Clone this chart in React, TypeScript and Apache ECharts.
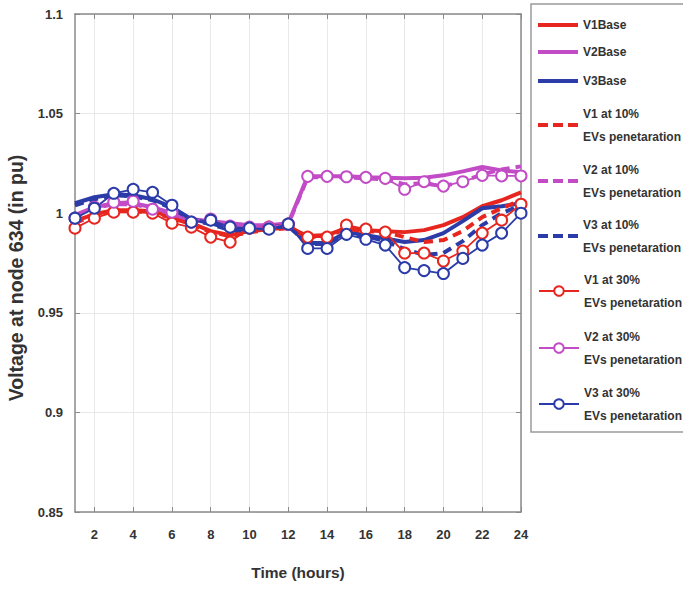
import { useEffect, useRef } from 'react';
import * as echarts from 'echarts';

const hours = ['1','2','3','4','5','6','7','8','9','10','11','12','13','14','15','16','17','18','19','20','21','22','23','24'];

const v1Base = [0.996, 0.9995, 1.0015, 1.0015, 1.001, 0.998, 0.995, 0.991, 0.989, 0.991, 0.992, 0.993, 0.9885, 0.989, 0.9925, 0.9915, 0.991, 0.9905, 0.9915, 0.994, 0.998, 1.0035, 1.0065, 1.0105];
const v2Base = [0.999, 1.003, 1.005, 1.005, 1.003, 1.0, 0.997, 0.996, 0.995, 0.994, 0.994, 0.995, 1.0185, 1.0185, 1.0185, 1.018, 1.0178, 1.0175, 1.0178, 1.019, 1.021, 1.0232, 1.0215, 1.0205];
const v3Base = [1.005, 1.008, 1.0095, 1.009, 1.007, 1.003, 0.997, 0.995, 0.992, 0.992, 0.993, 0.994, 0.985, 0.985, 0.9905, 0.989, 0.9873, 0.9855, 0.9865, 0.99, 0.996, 1.0025, 1.0035, 1.005];

const v1At10 = [0.995, 0.999, 1.001, 1.001, 1.0005, 0.9975, 0.9945, 0.9905, 0.9885, 0.9905, 0.9915, 0.9925, 0.988, 0.9885, 0.992, 0.991, 0.9905, 0.988, 0.9855, 0.9865, 0.991, 0.998, 1.0025, 1.0065];
const v2At10 = [0.9985, 1.0025, 1.0045, 1.0045, 1.0025, 0.9995, 0.9965, 0.9955, 0.9945, 0.9935, 0.9935, 0.9945, 1.018, 1.018, 1.018, 1.0175, 1.017, 1.0145, 1.015, 1.0135, 1.016, 1.0195, 1.022, 1.0235];
const v3At10 = [1.004, 1.007, 1.009, 1.0085, 1.0065, 1.0025, 0.9965, 0.9945, 0.9915, 0.9915, 0.9925, 0.9935, 0.9845, 0.9845, 0.99, 0.9885, 0.986, 0.982, 0.979, 0.98, 0.986, 0.994, 1.0, 1.004];

const v1At30 = [0.9925, 0.9975, 1.0005, 1.0005, 1.0, 0.995, 0.993, 0.988, 0.9855, 0.9925, 0.993, 0.9945, 0.988, 0.988, 0.994, 0.992, 0.9905, 0.98, 0.98, 0.976, 0.981, 0.99, 0.9965, 1.0045];
const v2At30 = [0.9975, 1.003, 1.0055, 1.006, 1.002, 1.0005, 0.9955, 0.997, 0.9935, 0.993, 0.993, 0.9945, 1.0185, 1.0185, 1.0183, 1.018, 1.0175, 1.012, 1.0158, 1.0136, 1.0158, 1.019, 1.0187, 1.0187];
const v3At30 = [0.9975, 1.0025, 1.01, 1.012, 1.0105, 1.004, 0.9955, 0.9965, 0.993, 0.9925, 0.992, 0.9945, 0.9823, 0.9823, 0.9894, 0.9869, 0.984, 0.9727, 0.9712, 0.9697, 0.9773, 0.984, 0.99, 1.0];

const RED = '#e6261f';
const MAG = '#c24cc6';
const BLUE = '#2b3ba8';
const FONT = "'Liberation Sans', Arial, sans-serif";
const FRAME = '#8a8a8a';

const SOLID_ICON = 'path://M0,0h40v4h-40z';
const DASH_ICON = 'path://M0,0h10v4h-10z M15,0h10v4h-10z M30,0h10v4h-10z';

type Def = { name: string; data: number[]; color: string; kind: 'base' | 'p10' | 'p30'; legendY: number; double: boolean };

const defs: Def[] = [
  { name: 'V1Base', data: v1Base, color: RED, kind: 'base', legendY: 25, double: false },
  { name: 'V2Base', data: v2Base, color: MAG, kind: 'base', legendY: 52, double: false },
  { name: 'V3Base', data: v3Base, color: BLUE, kind: 'base', legendY: 81, double: false },
  { name: 'V1 at 10% EVs penetaration', data: v1At10, color: RED, kind: 'p10', legendY: 125, double: true },
  { name: 'V2 at 10% EVs penetaration', data: v2At10, color: MAG, kind: 'p10', legendY: 181, double: true },
  { name: 'V3 at 10% EVs penetaration', data: v3At10, color: BLUE, kind: 'p10', legendY: 236, double: true },
  { name: 'V1 at 30% EVs penetaration', data: v1At30, color: RED, kind: 'p30', legendY: 291, double: true },
  { name: 'V2 at 30% EVs penetaration', data: v2At30, color: MAG, kind: 'p30', legendY: 348, double: true },
  { name: 'V3 at 30% EVs penetaration', data: v3At30, color: BLUE, kind: 'p30', legendY: 404, double: true },
];

const evenIdx = (i: number) => i % 2 === 1;

export default function App() {
  const ref = useRef<HTMLDivElement>(null);
  useEffect(() => {
    if (!ref.current) return;
    const chart = echarts.init(ref.current, undefined, { renderer: 'svg' });
    const LH = 23;
    const legends = defs.map((d) => {
      const icon = d.kind === 'base' ? SOLID_ICON : d.kind === 'p10' ? DASH_ICON : undefined;
      return {
        data: [icon ? { name: d.name, icon } : { name: d.name }],
        orient: 'vertical',
        left: 538,
        top: d.legendY - (d.double ? LH : LH / 2),
        padding: 0,
        itemWidth: 40,
        itemHeight: icon ? 4 : 12,
        selectedMode: false,
        formatter: (n: string) => n.replace(' EVs', '\nEVs'),
        textStyle: { fontFamily: FONT, fontSize: 12, fontWeight: 'bold', color: '#333', lineHeight: LH },
      };
    });
    const series = defs.map((d) => {
      const base: any = {
        name: d.name,
        type: 'line',
        data: d.data,
        xAxisIndex: 0,
        yAxisIndex: 0,
        color: d.color,
      };
      if (d.kind === 'base') {
        base.symbol = 'none';
        base.lineStyle = { width: 4, color: d.color };
        base.z = 2;
      } else if (d.kind === 'p10') {
        base.symbol = 'none';
        base.lineStyle = { width: 4, color: d.color, type: [9, 6] };
        base.z = 3;
      } else {
        base.symbol = 'emptyCircle';
        base.symbolSize = 11;
        base.lineStyle = { width: 1.8, color: d.color };
        base.itemStyle = { color: d.color, borderColor: d.color, borderWidth: 1.6 };
        base.z = 4;
      }
      return base;
    });
    chart.setOption({
      animation: false,
      backgroundColor: '#fff',
      grid: { left: 75, right: 162, top: 14, bottom: 77, containLabel: false },
      xAxis: [
        {
          type: 'category',
          data: hours,
          boundaryGap: false,
          axisLine: { lineStyle: { color: FRAME, width: 1.5 } },
          axisTick: { inside: true, length: 5, interval: evenIdx, lineStyle: { color: FRAME } },
          axisLabel: { interval: evenIdx, margin: 16, fontFamily: FONT, fontSize: 13, fontWeight: 'bold', color: '#333' },
          splitLine: { show: true, interval: evenIdx, lineStyle: { color: '#e8e8e8', width: 1 } },
          name: 'Time (hours)',
          nameLocation: 'middle',
          nameGap: 52,
          nameTextStyle: { fontFamily: FONT, fontSize: 15.5, fontWeight: 'bold', color: '#333' },
        },
        {
          type: 'category',
          data: hours,
          boundaryGap: false,
          position: 'top',
          axisLine: { lineStyle: { color: FRAME, width: 1.5 } },
          axisTick: { inside: true, length: 5, interval: evenIdx, lineStyle: { color: FRAME } },
          axisLabel: { show: false },
          splitLine: { show: false },
        },
      ],
      yAxis: [
        {
          type: 'value',
          min: 0.85,
          max: 1.1,
          interval: 0.05,
          axisLine: { show: true, lineStyle: { color: FRAME, width: 1.5 } },
          axisTick: { show: true, inside: true, length: 5, lineStyle: { color: FRAME } },
          axisLabel: { margin: 12, fontFamily: FONT, fontSize: 13, fontWeight: 'bold', color: '#333' },
          splitLine: { show: true, lineStyle: { color: '#e8e8e8', width: 1 } },
        },
        {
          type: 'value',
          min: 0.85,
          max: 1.1,
          interval: 0.05,
          position: 'right',
          axisLine: { show: true, lineStyle: { color: FRAME, width: 1.5 } },
          axisTick: { show: true, inside: true, length: 5, lineStyle: { color: FRAME } },
          axisLabel: { show: false },
          splitLine: { show: false },
        },
      ],
      legend: legends,
      graphic: [
        {
          type: 'rect',
          z: -1,
          shape: { x: 531, y: 4, width: 200, height: 428 },
          style: { fill: '#fff', stroke: '#9a9a9a', lineWidth: 1.5 },
        },
        {
          type: 'text',
          x: 16,
          y: 278,
          rotation: Math.PI / 2,
          style: {
            text: 'Voltage at node 634 (in pu)',
            fontFamily: FONT,
            fontSize: 19.5,
            fontWeight: 'bold',
            fill: '#333',
            align: 'center',
            verticalAlign: 'middle',
          },
        },
      ],
      series,
    });
    return () => chart.dispose();
  }, []);
  return <div ref={ref} style={{ width: 683, height: 589, position: 'absolute', left: 0, top: 0 }} />;
}
